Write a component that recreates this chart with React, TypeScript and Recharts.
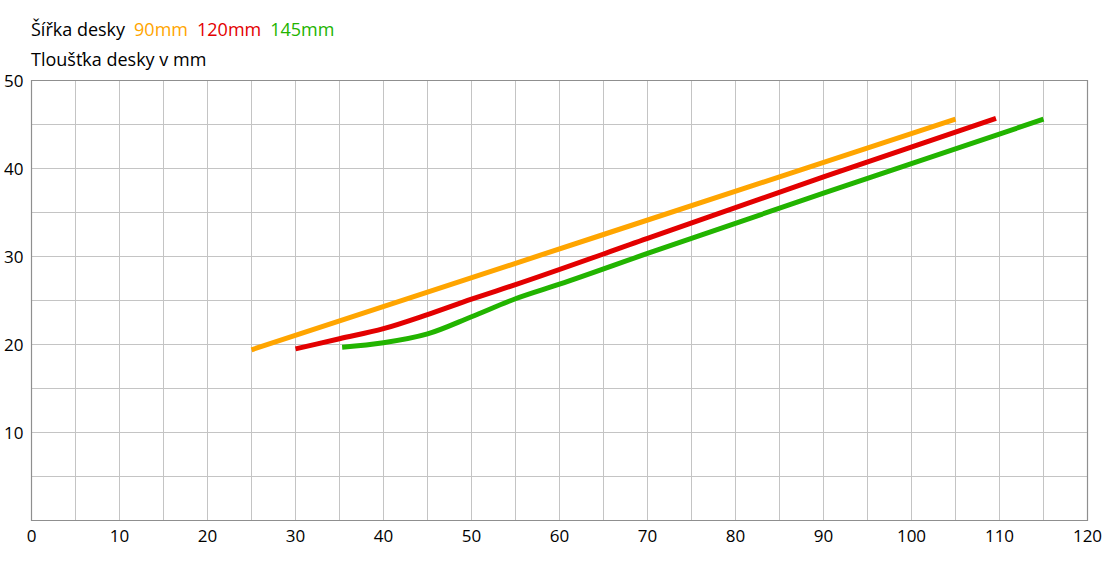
import { CartesianGrid, Line, LineChart, ReferenceArea, XAxis, YAxis } from "recharts";

// board width series: thickness (x) vs y readings
const orangeX = [25, 65, 105];
const orangeY = [19.4, 32.5, 45.6];

const redX = [30, 35, 40, 45, 50, 55, 70, 90, 109.6];
const redY = [19.5, 20.65, 21.8, 23.4, 25.15, 26.8, 32.05, 39.05, 45.7];

const greenX = [35.3, 40, 45, 50, 55, 60, 70, 90, 115];
const greenY = [19.7, 20.2, 21.2, 23.15, 25.2, 26.85, 30.35, 37.2, 45.6];

const xTicks = [0, 5, 10, 15, 20, 25, 30, 35, 40, 45, 50, 55, 60, 65, 70, 75, 80, 85, 90, 95, 100, 105, 110, 115, 120];
const yTicks = [0, 5, 10, 15, 20, 25, 30, 35, 40, 45, 50];

const SERIES = [
  { name: "90mm", color: "#ffa500", xs: orangeX, ys: orangeY },
  { name: "120mm", color: "#e30000", xs: redX, ys: redY },
  { name: "145mm", color: "#22b400", xs: greenX, ys: greenY },
];

const FONT = "'Open Sans', sans-serif";

export default function App() {
  const tick = { fill: "#000", fontSize: 17, fontFamily: FONT };

  return (
    <div style={{ position: "absolute", left: 0, top: 0, width: 1108, height: 563, background: "#fff", fontFamily: FONT }}>
      <div style={{ position: "absolute", left: 31, top: 17, fontSize: 18, color: "#000", whiteSpace: "nowrap" }}>
        <span>Šířka desky</span>
        {SERIES.map((s) => (
          <span key={s.name} style={{ color: s.color, marginLeft: 9 }}>
            {s.name}
          </span>
        ))}
      </div>
      <div style={{ position: "absolute", left: 31, top: 47, fontSize: 18, color: "#000", whiteSpace: "nowrap" }}>
        Tloušťka desky v mm
      </div>
      <LineChart width={1108} height={563} margin={{ top: 80.5, right: 20.5, bottom: 0, left: 0 }}>
        <CartesianGrid stroke="#c4c4c4" strokeWidth={1} />
        <XAxis
          type="number"
          dataKey="x"
          domain={[0, 120]}
          ticks={xTicks}
          tickFormatter={(v: number) => (v % 10 === 0 ? String(v) : "")}
          axisLine={false}
          tickLine={false}
          tickSize={0}
          tickMargin={9}
          height={42.5}
          tick={tick}
          interval={0}
          allowDataOverflow
        />
        <YAxis
          type="number"
          dataKey="y"
          domain={[0, 50]}
          ticks={yTicks}
          tickFormatter={(v: number) => (v % 10 === 0 && v > 0 ? String(v) : "")}
          axisLine={false}
          tickLine={false}
          tickSize={0}
          tickMargin={8}
          width={31.5}
          tick={tick}
          interval={0}
          allowDataOverflow
        />
        <ReferenceArea x1={0} x2={120} y1={0} y2={50} fill="none" stroke="#8f8f8f" strokeWidth={1.2} />
        {SERIES.map((s) => (
          <Line
            key={s.name}
            data={s.xs.map((x, i) => ({ x, y: s.ys[i] }))}
            dataKey="y"
            type="monotone"
            stroke={s.color}
            strokeWidth={5}
            dot={false}
            activeDot={false}
            isAnimationActive={false}
          />
        ))}
      </LineChart>
    </div>
  );
}
